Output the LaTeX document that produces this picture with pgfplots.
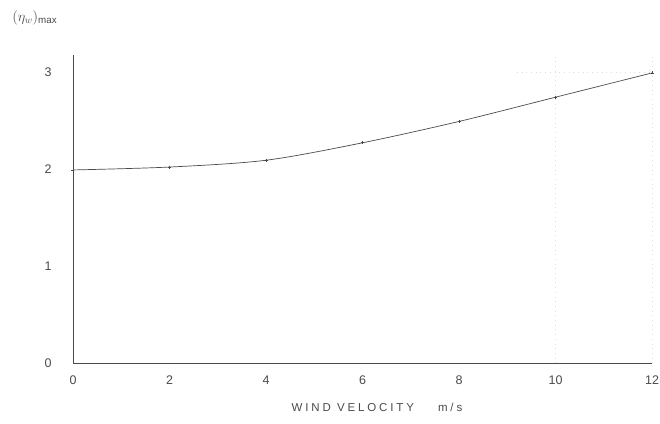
\documentclass[border=0pt]{standalone}
\usepackage{fontspec}
\setmainfont{Liberation Sans}
\newfontfamily\spaced[LetterSpace=25]{Liberation Sans}
\usepackage{pgfplots}
\pgfplotsset{compat=1.18}
\definecolor{ink}{HTML}{4A4A4A}
\definecolor{faint}{HTML}{DDDDDD}
\begin{document}
\begin{tikzpicture}
\begin{axis}[
  scale only axis,
  width=579pt, height=308pt,
  xmin=0, xmax=12, ymin=0, ymax=3.175,
  axis lines=left,
  axis line style={ink, line width=0.8pt, -},
  xtick={0,2,4,6,8,10,12},
  ytick={0,1,2,3},
  major tick length=0pt,
  tick label style={ink, font=\fontsize{12.5}{14}\selectfont},
  xticklabel style={yshift=-9pt},
  yticklabel style={xshift=-18pt},
  /pgf/number format/assume math mode=true,
  clip=false,
]
\addplot[faint, loosely dotted, line width=0.7pt] coordinates {(10,0) (10,3.17)};
\addplot[faint, loosely dotted, line width=0.7pt] coordinates {(12,0) (12,3.17)};
\addplot[faint, loosely dotted, line width=0.7pt] coordinates {(9.2,3) (12,3)};
\addplot[ink, line width=0.7pt, smooth, mark=+, mark size=1.5pt] coordinates {
  (0,1.99) (2,2.02) (4,2.09) (6,2.27) (8,2.49) (10,2.74) (12,2.99)
};
\node[ink, font=\fontsize{14}{16}\selectfont] at (rel axis cs:-0.066,1.12) {$(\eta_{w})_{\max}$};
\node[ink, font=\spaced\fontsize{11.5}{13}\selectfont] at (rel axis cs:0.525,-0.143) {WIND VELOCITY\hspace{24pt}m/s};
\end{axis}
\pgfresetboundingbox
\path[use as bounding box] ([shift={(-73pt,-60pt)}]current axis.south west) rectangle ([shift={(8pt,55pt)}]current axis.north east);
\end{tikzpicture}
\end{document}
